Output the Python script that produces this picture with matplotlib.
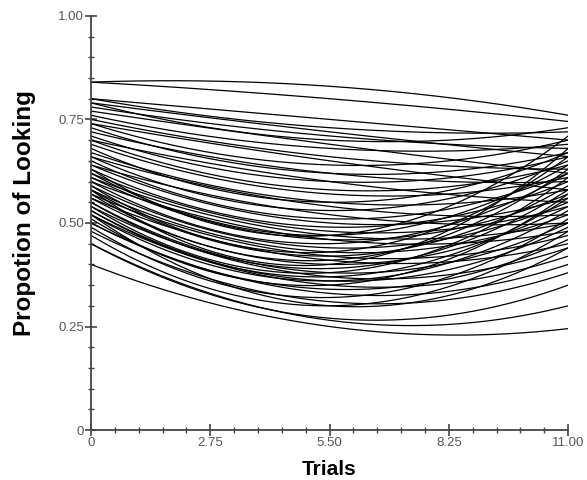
import numpy as np
import matplotlib.pyplot as plt
from matplotlib.ticker import MultipleLocator, FixedLocator

plt.rcParams['font.family'] = ['Liberation Sans', 'DejaVu Sans']

# Fitted proportion of looking per participant, read at trial 0, 5.5 and 11
y_start = [0.84, 0.84, 0.80, 0.80, 0.79, 0.79, 0.78, 0.77, 0.76, 0.75,
           0.74, 0.74, 0.73, 0.72, 0.71, 0.70, 0.70, 0.69, 0.68, 0.67,
           0.66, 0.66, 0.65, 0.64, 0.64, 0.63, 0.62, 0.62, 0.61, 0.61,
           0.60, 0.60, 0.59, 0.59, 0.58, 0.58, 0.57, 0.57, 0.56, 0.56,
           0.55, 0.55, 0.54, 0.54, 0.53, 0.53, 0.52, 0.52, 0.51, 0.50,
           0.50, 0.49, 0.48, 0.47, 0.45, 0.45, 0.40, 0.52, 0.58, 0.63]
y_mid = [0.83, 0.80, 0.75, 0.73, 0.72, 0.70, 0.71, 0.69, 0.68, 0.66,
         0.64, 0.65, 0.62, 0.62, 0.60, 0.58, 0.60, 0.57, 0.55, 0.55,
         0.53, 0.54, 0.51, 0.50, 0.52, 0.49, 0.48, 0.47, 0.47, 0.46,
         0.45, 0.46, 0.44, 0.43, 0.43, 0.42, 0.42, 0.41, 0.40, 0.41,
         0.39, 0.38, 0.38, 0.37, 0.37, 0.36, 0.36, 0.35, 0.35, 0.34,
         0.33, 0.32, 0.31, 0.30, 0.27, 0.265, 0.25, 0.30, 0.40, 0.47]
y_end = [0.76, 0.745, 0.70, 0.72, 0.66, 0.73, 0.68, 0.62, 0.69, 0.63,
         0.70, 0.58, 0.67, 0.60, 0.66, 0.64, 0.55, 0.61, 0.67, 0.58,
         0.65, 0.52, 0.62, 0.56, 0.50, 0.60, 0.54, 0.64, 0.50, 0.57,
         0.62, 0.48, 0.55, 0.66, 0.52, 0.59, 0.47, 0.63, 0.54, 0.45,
         0.58, 0.50, 0.61, 0.44, 0.56, 0.49, 0.53, 0.42, 0.57, 0.46,
         0.40, 0.51, 0.38, 0.48, 0.35, 0.30, 0.245, 0.44, 0.68, 0.71]
trial_pts = [0, 5.5, 11]

fig = plt.figure(figsize=(5.87, 4.80), dpi=100)
ax = fig.add_axes([0.155, 0.104, 0.813, 0.863])

x = np.linspace(0, 11, 200)
for a, m, b in zip(y_start, y_mid, y_end):
    coef = np.polyfit(trial_pts, [a, m, b], 2)
    ax.plot(x, np.polyval(coef, x), color='black', linewidth=0.9)

ax.set_xlim(0, 11)
ax.set_ylim(0, 1)
ax.xaxis.set_major_locator(FixedLocator([0, 2.75, 5.5, 8.25, 11]))
ax.xaxis.set_minor_locator(MultipleLocator(0.55))
ax.yaxis.set_major_locator(FixedLocator([0, 0.25, 0.5, 0.75, 1.0]))
ax.yaxis.set_minor_locator(MultipleLocator(0.05))
ax.set_xticklabels(['0', '2.75', '5.50', '8.25', '11.00'])
ax.set_yticklabels(['0', '0.25', '0.50', '0.75', '1.00'])

for side in ['top', 'right']:
    ax.spines[side].set_visible(False)
for side in ['left', 'bottom']:
    ax.spines[side].set_color('#444444')
    ax.spines[side].set_linewidth(1.3)

ax.tick_params(which='major', direction='inout', length=9, width=1.2,
               color='#444444', labelsize=9.5, labelcolor='#555555', pad=0.5)
ax.tick_params(which='minor', direction='inout', length=5, width=1.0,
               color='#444444')

ax.set_xlabel('Trials', fontsize=15, fontweight='bold', labelpad=8)
ax.set_ylabel('Propotion of Looking', fontsize=17.5, fontweight='bold')
ax.yaxis.set_label_coords(-0.115, 0.524)

fig.savefig('out.png', dpi=100)
